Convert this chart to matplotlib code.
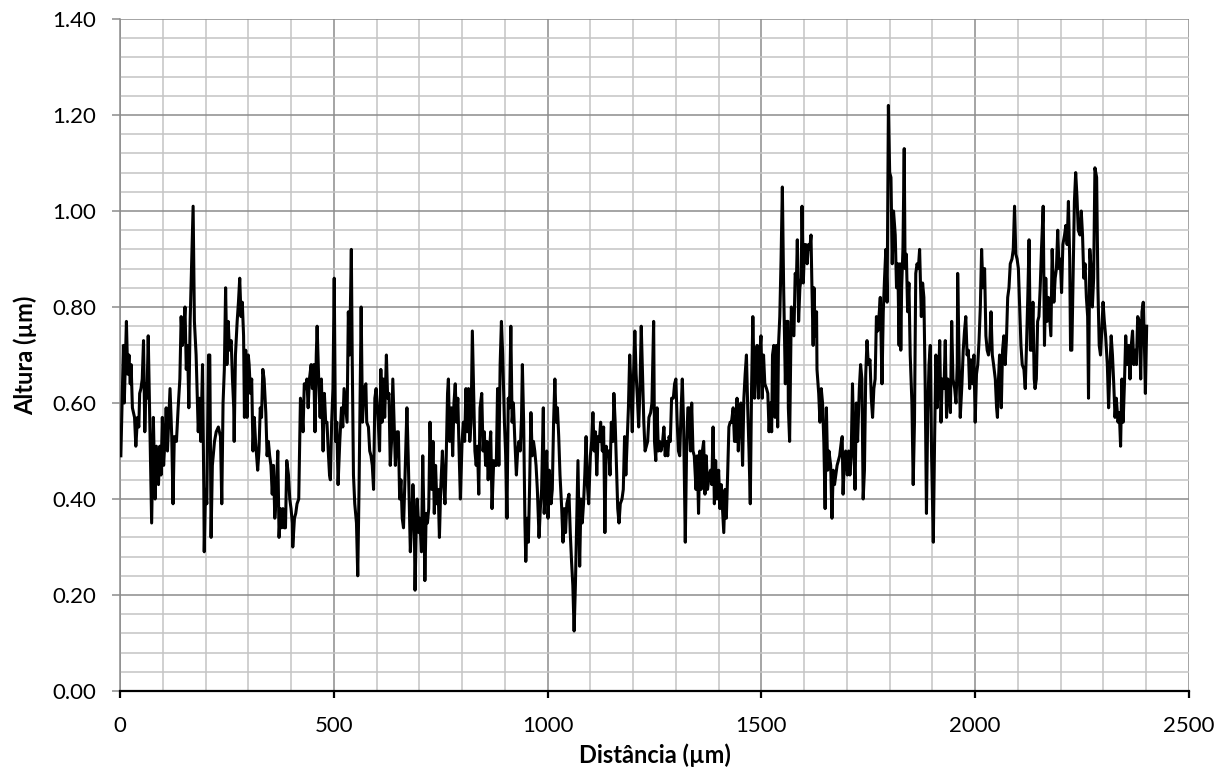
import matplotlib
matplotlib.use("Agg")
import matplotlib.pyplot as plt
import numpy as np
from matplotlib.ticker import MultipleLocator, FormatStrFormatter

# profile, in 8 pieces along the distance axis (um)
dist_1 = [2, 8, 10, 15, 18, 21, 24, 26, 29, 34, 37, 41, 44, 46, 49, 52, 55, 58, 61, 63,
          66, 69, 74, 78, 82, 85, 90, 93, 96, 99, 102, 105, 108, 111, 115, 117, 121, 124, 127, 132,
          136, 140, 143, 146, 149, 152, 155, 158, 161, 164, 168, 171, 174, 178, 183, 186, 189, 193, 196, 197,
          200, 203, 207, 210, 213, 216, 221, 225, 230, 235, 238, 241, 244, 247, 250, 253, 256, 260, 263, 266,
          267, 270, 274, 277, 280, 283, 286, 289, 291, 294, 297, 300]
height_1 = [0.49, 0.72, 0.60, 0.77, 0.66, 0.70, 0.64, 0.68, 0.59, 0.57, 0.51, 0.57, 0.55, 0.62, 0.63, 0.65, 0.73, 0.54, 0.64, 0.61,
            0.74, 0.59, 0.35, 0.57, 0.40, 0.51, 0.43, 0.51, 0.45, 0.57, 0.47, 0.52, 0.59, 0.50, 0.59, 0.63, 0.53, 0.39, 0.53, 0.52,
            0.59, 0.65, 0.78, 0.72, 0.75, 0.80, 0.67, 0.72, 0.59, 0.77, 0.91, 1.01, 0.77, 0.70, 0.54, 0.61, 0.52, 0.68, 0.42, 0.29,
            0.42, 0.39, 0.70, 0.70, 0.32, 0.47, 0.52, 0.54, 0.55, 0.53, 0.39, 0.60, 0.67, 0.84, 0.68, 0.77, 0.71, 0.73, 0.65, 0.59,
            0.52, 0.70, 0.77, 0.81, 0.86, 0.78, 0.81, 0.74, 0.57, 0.71, 0.57, 0.70]

dist_2 = [302, 305, 308, 311, 314, 317, 322, 325, 328, 331, 334, 337, 341, 344, 347, 350, 353, 356, 359, 362,
          365, 369, 372, 375, 378, 381, 384, 387, 390, 394, 397, 400, 403, 404, 408, 411, 414, 418, 422, 425,
          428, 431, 434, 437, 440, 443, 447, 450, 453, 456, 459, 461, 465, 468, 471, 475, 478, 481, 484, 487,
          490, 492, 495, 498, 501, 504, 507, 510, 514, 518, 521, 524, 528, 531, 534, 537, 541, 543, 546, 549,
          553, 556, 559, 562, 564, 567, 571, 575, 577, 581, 584, 587, 590, 593, 596, 599, 602]
height_2 = [0.68, 0.62, 0.65, 0.50, 0.57, 0.52, 0.46, 0.50, 0.59, 0.57, 0.67, 0.65, 0.58, 0.49, 0.52, 0.49, 0.47, 0.41, 0.47, 0.36,
            0.40, 0.50, 0.32, 0.38, 0.34, 0.38, 0.34, 0.34, 0.48, 0.45, 0.40, 0.38, 0.35, 0.30, 0.36, 0.37, 0.39, 0.40, 0.61, 0.59,
            0.54, 0.64, 0.63, 0.65, 0.59, 0.65, 0.68, 0.63, 0.68, 0.54, 0.70, 0.76, 0.64, 0.57, 0.65, 0.50, 0.62, 0.56, 0.56, 0.50,
            0.45, 0.44, 0.56, 0.63, 0.86, 0.52, 0.56, 0.43, 0.52, 0.59, 0.55, 0.63, 0.59, 0.56, 0.79, 0.70, 0.92, 0.70, 0.45, 0.39,
            0.35, 0.24, 0.42, 0.66, 0.80, 0.56, 0.63, 0.64, 0.56, 0.55, 0.50, 0.49, 0.47, 0.42, 0.61, 0.63, 0.59]

dist_3 = [604, 607, 610, 613, 616, 619, 623, 626, 629, 632, 635, 638, 641, 644, 648, 651, 654, 657, 660, 663,
          666, 671, 674, 677, 679, 682, 685, 688, 690, 693, 695, 699, 701, 705, 708, 711, 713, 716, 719, 722,
          725, 729, 732, 735, 738, 741, 744, 747, 750, 754, 757, 760, 763, 766, 768, 771, 775, 778, 781, 784,
          787, 790, 793, 796, 800, 803, 806, 809, 812, 815, 818, 821, 824, 827, 830, 833, 836, 839, 842, 846,
          849, 852, 855, 858, 861, 864, 867, 870, 874, 877, 880, 883, 886, 889, 892, 895, 899, 902, 905, 908]
height_3 = [0.56, 0.50, 0.67, 0.56, 0.65, 0.57, 0.70, 0.61, 0.62, 0.47, 0.52, 0.65, 0.56, 0.47, 0.54, 0.54, 0.40, 0.44, 0.36, 0.34,
            0.43, 0.59, 0.49, 0.37, 0.29, 0.35, 0.43, 0.37, 0.21, 0.35, 0.40, 0.33, 0.36, 0.29, 0.49, 0.35, 0.23, 0.37, 0.35, 0.38,
            0.56, 0.42, 0.52, 0.37, 0.47, 0.39, 0.42, 0.32, 0.42, 0.50, 0.43, 0.39, 0.49, 0.62, 0.65, 0.52, 0.59, 0.49, 0.60, 0.64,
            0.56, 0.61, 0.50, 0.40, 0.52, 0.56, 0.52, 0.63, 0.54, 0.63, 0.52, 0.56, 0.75, 0.63, 0.50, 0.47, 0.51, 0.41, 0.59, 0.62,
            0.50, 0.54, 0.47, 0.52, 0.44, 0.50, 0.54, 0.38, 0.48, 0.47, 0.47, 0.63, 0.47, 0.68, 0.77, 0.70, 0.56, 0.49, 0.36, 0.61]

dist_4 = [911, 914, 917, 920, 923, 927, 930, 933, 936, 939, 941, 944, 947, 949, 952, 955, 958, 961, 964, 967,
          970, 973, 976, 980, 983, 986, 990, 992, 995, 998, 1001, 1004, 1008, 1011, 1014, 1017, 1020, 1023, 1026, 1029,
          1033, 1036, 1039, 1042, 1045, 1050, 1053, 1056, 1059, 1062, 1065, 1068, 1071, 1075, 1078, 1081, 1084, 1087, 1090, 1093,
          1096, 1100, 1103, 1106, 1109, 1112, 1115, 1118, 1121, 1124, 1128, 1131, 1134, 1137, 1140, 1143, 1146, 1149, 1153, 1155,
          1158, 1161, 1164, 1167, 1170, 1174, 1177, 1180, 1183, 1186, 1189, 1192, 1195, 1198, 1201, 1204, 1207, 1210, 1213]
height_4 = [0.59, 0.76, 0.56, 0.60, 0.53, 0.45, 0.50, 0.52, 0.50, 0.57, 0.68, 0.56, 0.35, 0.27, 0.36, 0.31, 0.43, 0.58, 0.49, 0.52,
            0.50, 0.47, 0.42, 0.32, 0.38, 0.42, 0.59, 0.37, 0.43, 0.50, 0.36, 0.46, 0.39, 0.42, 0.56, 0.65, 0.56, 0.59, 0.53, 0.45,
            0.38, 0.31, 0.38, 0.33, 0.39, 0.41, 0.33, 0.27, 0.22, 0.125, 0.22, 0.35, 0.48, 0.26, 0.40, 0.35, 0.39, 0.45, 0.53, 0.43,
            0.39, 0.49, 0.52, 0.58, 0.50, 0.54, 0.45, 0.53, 0.52, 0.56, 0.50, 0.55, 0.33, 0.51, 0.49, 0.50, 0.45, 0.56, 0.52, 0.62,
            0.56, 0.47, 0.38, 0.35, 0.39, 0.40, 0.42, 0.53, 0.45, 0.52, 0.59, 0.70, 0.63, 0.54, 0.66, 0.75, 0.66, 0.61, 0.55]

dist_5 = [1216, 1219, 1222, 1225, 1228, 1231, 1234, 1237, 1241, 1244, 1248, 1250, 1253, 1256, 1259, 1262, 1265, 1269, 1272, 1275,
          1278, 1281, 1284, 1287, 1290, 1294, 1297, 1300, 1303, 1306, 1309, 1312, 1315, 1318, 1322, 1325, 1328, 1331, 1334, 1337,
          1340, 1343, 1347, 1350, 1353, 1356, 1359, 1362, 1365, 1368, 1371, 1374, 1378, 1381, 1384, 1387, 1390, 1393, 1396, 1400,
          1403, 1406, 1409, 1412, 1415, 1418, 1421, 1424, 1427, 1430, 1434, 1437, 1440, 1443, 1446, 1449, 1452, 1456, 1459, 1462,
          1465, 1468, 1471, 1474, 1477, 1480, 1484, 1487, 1490, 1493, 1496, 1499, 1502, 1505, 1508, 1512, 1515, 1518]
height_5 = [0.63, 0.76, 0.66, 0.56, 0.50, 0.51, 0.52, 0.57, 0.58, 0.60, 0.77, 0.52, 0.48, 0.59, 0.50, 0.52, 0.50, 0.52, 0.55, 0.49,
            0.52, 0.49, 0.53, 0.52, 0.61, 0.61, 0.64, 0.65, 0.56, 0.50, 0.49, 0.58, 0.65, 0.56, 0.31, 0.50, 0.59, 0.59, 0.50, 0.60,
            0.50, 0.49, 0.42, 0.49, 0.37, 0.50, 0.42, 0.50, 0.52, 0.41, 0.49, 0.42, 0.45, 0.46, 0.43, 0.55, 0.39, 0.48, 0.40, 0.46,
            0.38, 0.43, 0.38, 0.33, 0.42, 0.36, 0.45, 0.55, 0.56, 0.56, 0.59, 0.52, 0.52, 0.61, 0.50, 0.58, 0.60, 0.47, 0.61, 0.66,
            0.70, 0.59, 0.50, 0.39, 0.63, 0.78, 0.61, 0.70, 0.72, 0.61, 0.70, 0.74, 0.61, 0.70, 0.64, 0.63, 0.62, 0.54]

dist_6 = [1521, 1524, 1526, 1529, 1532, 1535, 1538, 1540, 1543, 1546, 1549, 1552, 1556, 1559, 1562, 1563, 1566, 1568, 1570, 1573,
          1576, 1579, 1582, 1584, 1587, 1590, 1593, 1595, 1598, 1601, 1604, 1607, 1610, 1613, 1616, 1618, 1621, 1623, 1626, 1629,
          1630, 1634, 1637, 1640, 1643, 1646, 1649, 1652, 1655, 1658, 1662, 1665, 1668, 1671, 1674, 1677, 1680, 1683, 1687, 1689,
          1691, 1694, 1697, 1701, 1704, 1707, 1710, 1713, 1716, 1719, 1722, 1725, 1729, 1732, 1735, 1738, 1741, 1744, 1747, 1750,
          1754, 1757, 1760, 1763, 1766, 1769, 1772, 1775, 1778, 1782, 1785, 1788, 1791, 1794, 1797, 1800, 1803, 1806, 1809, 1813,
          1816, 1819, 1822]
height_6 = [0.60, 0.54, 0.70, 0.72, 0.57, 0.72, 0.55, 0.72, 0.78, 0.90, 1.05, 0.84, 0.64, 0.77, 0.77, 0.59, 0.52, 0.66, 0.80, 0.77,
            0.74, 0.87, 0.86, 0.94, 0.77, 0.84, 0.86, 1.01, 0.85, 0.93, 0.93, 0.89, 0.93, 0.92, 0.95, 0.85, 0.72, 0.84, 0.74, 0.79,
            0.67, 0.62, 0.56, 0.63, 0.60, 0.52, 0.38, 0.59, 0.46, 0.50, 0.47, 0.36, 0.46, 0.43, 0.45, 0.47, 0.48, 0.49, 0.52, 0.53,
            0.41, 0.48, 0.50, 0.45, 0.50, 0.45, 0.49, 0.64, 0.52, 0.42, 0.60, 0.52, 0.63, 0.68, 0.65, 0.40, 0.46, 0.66, 0.73, 0.68,
            0.69, 0.61, 0.57, 0.63, 0.65, 0.78, 0.75, 0.78, 0.82, 0.64, 0.79, 0.86, 0.92, 0.81, 1.22, 1.08, 1.07, 0.89, 1.00, 0.95,
            0.84, 0.89, 0.72]

dist_7 = [1824, 1826, 1828, 1831, 1834, 1836, 1839, 1842, 1845, 1848, 1852, 1855, 1858, 1861, 1864, 1867, 1870, 1874, 1877, 1880,
          1883, 1886, 1889, 1892, 1895, 1898, 1902, 1905, 1908, 1911, 1914, 1917, 1920, 1923, 1927, 1930, 1933, 1936, 1939, 1942,
          1945, 1948, 1952, 1955, 1958, 1959, 1962, 1965, 1969, 1972, 1975, 1978, 1981, 1984, 1987, 1990, 1994, 1997, 2000, 2003,
          2006, 2009, 2012, 2015, 2018, 2022, 2025, 2028, 2031, 2034, 2037, 2040, 2043, 2047, 2050, 2052, 2054, 2057, 2061, 2064,
          2067, 2070, 2073, 2076, 2079, 2082, 2086, 2089, 2092, 2095, 2098, 2101, 2104, 2107, 2110, 2114, 2117, 2120, 2123, 2126,
          2129]
height_7 = [0.89, 0.71, 0.84, 0.92, 1.13, 0.88, 0.91, 0.79, 0.85, 0.70, 0.60, 0.43, 0.56, 0.87, 0.89, 0.88, 0.92, 0.78, 0.85, 0.82,
            0.64, 0.37, 0.58, 0.68, 0.72, 0.49, 0.31, 0.52, 0.70, 0.59, 0.64, 0.73, 0.56, 0.65, 0.63, 0.73, 0.57, 0.65, 0.63, 0.58,
            0.77, 0.65, 0.63, 0.60, 0.68, 0.87, 0.71, 0.57, 0.64, 0.71, 0.75, 0.78, 0.70, 0.71, 0.63, 0.69, 0.64, 0.70, 0.56, 0.66,
            0.68, 0.73, 0.80, 0.92, 0.84, 0.88, 0.74, 0.71, 0.70, 0.72, 0.79, 0.70, 0.68, 0.65, 0.59, 0.57, 0.64, 0.70, 0.59, 0.71,
            0.74, 0.68, 0.73, 0.82, 0.84, 0.89, 0.90, 0.92, 1.01, 0.91, 0.90, 0.88, 0.80, 0.72, 0.68, 0.67, 0.63, 0.72, 0.82, 0.94,
            0.71]

dist_8 = [2132, 2135, 2138, 2140, 2143, 2146, 2149, 2152, 2155, 2159, 2162, 2165, 2168, 2171, 2174, 2177, 2180, 2184, 2187, 2190,
          2193, 2196, 2199, 2202, 2205, 2209, 2212, 2215, 2218, 2221, 2223, 2226, 2229, 2232, 2235, 2238, 2241, 2245, 2248, 2251,
          2254, 2257, 2260, 2263, 2265, 2268, 2271, 2274, 2277, 2280, 2284, 2287, 2290, 2293, 2296, 2299, 2302, 2305, 2309, 2312,
          2315, 2318, 2321, 2324, 2327, 2330, 2334, 2337, 2340, 2343, 2346, 2349, 2352, 2355, 2359, 2362, 2365, 2368, 2371, 2374,
          2377, 2380, 2384, 2387, 2390, 2393, 2396, 2398, 2401]
height_8 = [0.71, 0.81, 0.65, 0.63, 0.65, 0.77, 0.78, 0.84, 0.92, 1.01, 0.72, 0.86, 0.77, 0.82, 0.78, 0.74, 0.92, 0.81, 0.86, 0.88,
            0.96, 0.88, 0.90, 0.83, 0.93, 0.95, 0.97, 0.93, 1.02, 0.90, 0.71, 0.71, 0.86, 1.02, 1.08, 1.03, 0.96, 0.95, 1.00, 0.95,
            0.86, 0.89, 0.82, 0.78, 0.61, 0.92, 0.88, 0.80, 0.86, 1.09, 1.07, 0.84, 0.72, 0.70, 0.75, 0.81, 0.77, 0.74, 0.68, 0.59,
            0.67, 0.74, 0.70, 0.64, 0.57, 0.61, 0.56, 0.58, 0.51, 0.65, 0.56, 0.64, 0.74, 0.68, 0.72, 0.65, 0.72, 0.75, 0.68, 0.71,
            0.68, 0.78, 0.77, 0.65, 0.79, 0.81, 0.71, 0.62, 0.76]

dist = np.concatenate([dist_1, dist_2, dist_3, dist_4, dist_5, dist_6, dist_7, dist_8])
height = np.concatenate([height_1, height_2, height_3, height_4, height_5, height_6, height_7, height_8])

plt.rcParams['font.family'] = ['Lato', 'DejaVu Sans']

MAJOR_GRID = '#8c8c8c'
MINOR_GRID = '#c4c4c4'

fig = plt.figure(figsize=(12.2, 7.8), dpi=100)
ax = fig.add_axes([120 / 1220, 1 - 691 / 780, 1069 / 1220, 672 / 780])

ax.plot(dist, height, color='black', lw=2.2, solid_joinstyle='round', zorder=3)

ax.set_xlim(0, 2500)
ax.set_ylim(0, 1.4)
ax.xaxis.set_major_locator(MultipleLocator(500))
ax.xaxis.set_minor_locator(MultipleLocator(100))
ax.yaxis.set_major_locator(MultipleLocator(0.2))
ax.yaxis.set_minor_locator(MultipleLocator(0.04))
ax.yaxis.set_major_formatter(FormatStrFormatter('%.2f'))

ax.grid(which='minor', color=MINOR_GRID, lw=1.1, zorder=0)
ax.grid(which='major', color=MAJOR_GRID, lw=1.1, zorder=1)
ax.set_axisbelow(True)

for s in ['top', 'right']:
    ax.spines[s].set_visible(False)
ax.spines['left'].set_color(MAJOR_GRID)
ax.spines['left'].set_linewidth(1.1)
ax.spines['bottom'].set_color('black')
ax.spines['bottom'].set_linewidth(1.6)

ax.tick_params(axis='y', which='major', direction='out', length=6, width=1.1,
               color=MAJOR_GRID, labelsize=16, pad=11, labelcolor='black')
ax.tick_params(axis='x', which='major', direction='out', length=5, width=1.6,
               color='black', labelsize=16, pad=13, labelcolor='black')
ax.tick_params(which='minor', length=0)

fig.text(654.5 / 1220, 1 - 755 / 780, 'Distância (µm)', ha='center', va='center',
         fontsize=17, fontweight='bold')
fig.text(25 / 1220, 1 - 355 / 780, 'Altura (µm)', ha='center', va='center',
         rotation=90, fontsize=17, fontweight='bold')

fig.savefig('out.png', dpi=100)
